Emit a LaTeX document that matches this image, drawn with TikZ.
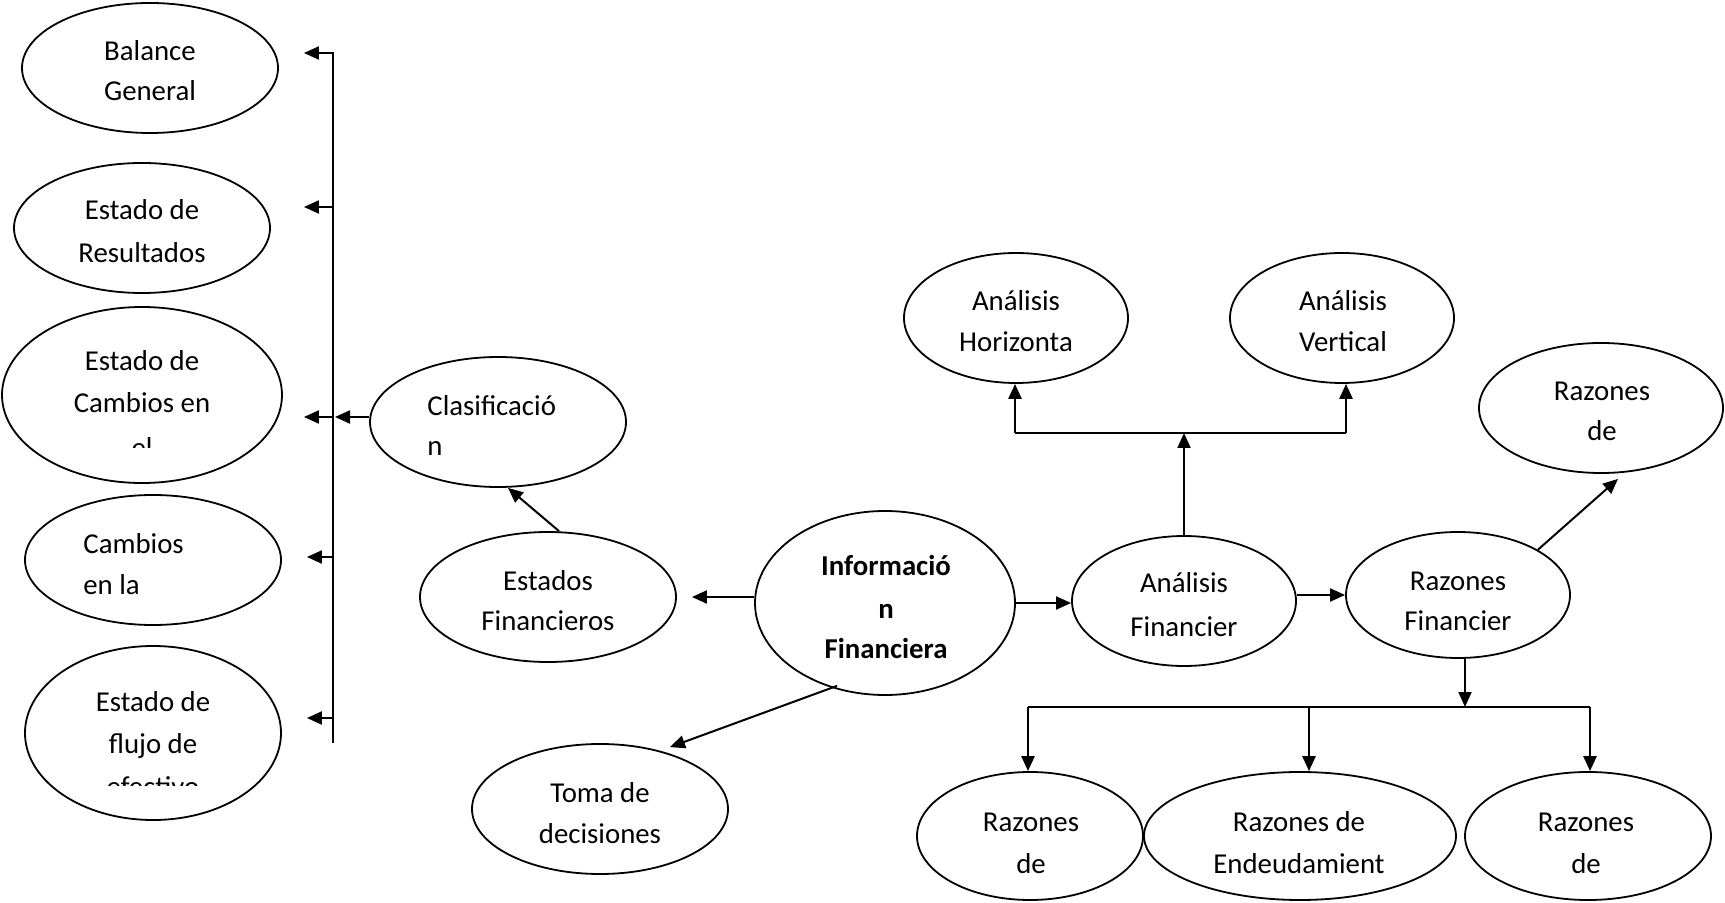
\documentclass[tikz,border=0pt]{standalone}
\usepackage{fontspec}
\setmainfont{Carlito}
\usetikzlibrary{arrows.meta,shapes.geometric}
\begin{document}
\begin{tikzpicture}[x=0.5pt,y=-0.5pt,
  oval/.style={draw,ellipse,line width=0.9pt,inner sep=0pt},
  ln/.style={anchor=base,inner sep=0pt,font=\fontsize{14.4}{21}\selectfont},
  lnw/.style={ln,anchor=base west},
  lnb/.style={ln,font=\fontsize{14.4}{21}\selectfont\bfseries},
  arr/.style={-{Triangle[length=7.5pt,width=6.5pt]},line width=1pt},
  link/.style={line width=1pt},
  bar/.style={line width=1.3pt},
]
\fill[white] (0,0) rectangle (1725,903);
\useasboundingbox (0,0) rectangle (1725,903);

% ---------- ovals ----------
\node[oval,minimum width=128pt,minimum height=65pt] (bg)   at (150,68)  {};
\node[oval,minimum width=128pt,minimum height=65pt] (er)   at (142,228) {};
\node[oval,minimum width=140pt,minimum height=88pt] (ec)   at (142,395) {};
\node[oval,minimum width=128pt,minimum height=65pt] (cl)   at (153,560) {};
\node[oval,minimum width=128pt,minimum height=87pt] (ef)   at (153,733) {};
\node[oval,minimum width=128pt,minimum height=65pt] (clas) at (498,422) {};
\node[oval,minimum width=128pt,minimum height=65pt] (estf) at (548,597) {};
\node[oval,minimum width=128pt,minimum height=65pt] (toma) at (600,809) {};
\node[oval,minimum width=130pt,minimum height=92pt] (info) at (885,603) {};
\node[oval,minimum width=112pt,minimum height=65pt] (ah)   at (1016,318) {};
\node[oval,minimum width=112pt,minimum height=65pt] (av)   at (1342,318) {};
\node[oval,minimum width=112pt,minimum height=65pt] (af)   at (1184,601) {};
\node[oval,minimum width=112pt,minimum height=63pt] (rf)   at (1458,595) {};
\node[oval,minimum width=122pt,minimum height=65pt] (rd)   at (1601,408) {};
\node[oval,minimum width=113pt,minimum height=64pt] (r1)   at (1030,836) {};
\node[oval,minimum width=156pt,minimum height=64pt] (r2)   at (1300,836) {};
\node[oval,minimum width=123pt,minimum height=64pt] (r3)   at (1588,836) {};

% ---------- labels ----------
\node[ln] (bg1) at (150,61) {Balance};
\node[ln] (bg2) at (150,101) {General};
\node[ln] (er1) at (142,220) {Estado de};
\node[ln] (er2) at (142,263) {Resultados};
\begin{scope}
  \clip (20,320) rectangle (270,448);
  \node[ln] (ec1) at (142,371) {Estado de};
  \node[ln] (ec2) at (142,413) {Cambios en};
  \node[ln] (ec3) at (142,458) {el};
\end{scope}
\node[lnw] (cl1) at (83,553) {Cambios};
\node[lnw] (cl2) at (83,595) {en la};
\begin{scope}
  \clip (40,670) rectangle (270,785);
  \node[ln] (ef1) at (153,711) {Estado de};
  \node[ln] (ef2) at (153,753) {flujo de};
  \node[ln] (ef3) at (153,796) {efectivo};
\end{scope}
\node[lnw] (cs1) at (427,416) {Clasificació};
\node[lnw] (cs2) at (427,456) {n};
\node[ln] (es1) at (548,590) {Estados};
\node[ln] (es2) at (548,631) {Financieros};
\node[ln] (tm1) at (600,802) {Toma de};
\node[ln] (tm2) at (600,843) {decisiones};
\node[lnb] (in1) at (886,575) {Informació};
\node[lnb] (in2) at (886,618) {n};
\node[lnb] (in3) at (886,658) {Financiera};
\node[ln] (ah1) at (1016,311) {Análisis};
\node[ln] (ah2) at (1016,352) {Horizonta};
\node[ln] (av1) at (1343,311) {Análisis};
\node[ln] (av2) at (1343,352) {Vertical};
\node[ln] (af1) at (1184,593) {Análisis};
\node[ln] (af2) at (1184,636) {Financier};
\node[ln] (rf1) at (1458,590) {Razones};
\node[ln] (rf2) at (1458,630) {Financier};
\node[ln] (rd1) at (1602,401) {Razones};
\node[ln] (rd2) at (1602,441) {de};
\node[ln] (ra1) at (1031,831) {Razones};
\node[ln] (ra2) at (1031,873) {de};
\node[ln] (rb1) at (1299,831) {Razones de};
\node[ln] (rb2) at (1299,873) {Endeudamient};
\node[ln] (rc1) at (1586,831) {Razones};
\node[ln] (rc2) at (1586,873) {de};

% ---------- left bus ----------
\coordinate (bustop) at (333,52);
\coordinate (busbot) at (333,743);
\coordinate (b1) at (333,53);
\coordinate (b2) at (333,207);
\coordinate (b3) at (333,417);
\coordinate (b4) at (333,557);
\coordinate (b5) at (333,718);
\draw[link] (bustop) -- (busbot);
\draw[arr,shorten >=12.5pt] (b1) -- (b1 -| bg.east);
\draw[arr,shorten >=16.5pt] (b2) -- (b2 -| er.east);
\draw[arr,shorten >=10.5pt] (b3) -- (b3 -| ec.east);
\draw[arr,shorten >=12.5pt] (b4) -- (b4 -| cl.east);
\draw[arr,shorten >=12.5pt] (b5) -- (b5 -| ef.east);
\draw[arr,shorten >=1pt] (b3 -| clas.west) -- (b3);

% ---------- centre ----------
\draw[arr] ([xshift=5.5pt]estf.north) -- ([xshift=5pt]clas.south);
\draw[arr,shorten >=7.5pt] (info.west |- estf.east) -- (estf.east);
\draw[arr] ([shift={(-48,-10)}]info.south) -- ([shift={(70,4)}]toma.north);
\draw[arr] (info.east) -- (info.east -| af.west);

% ---------- analysis branch ----------
\coordinate (brL) at (1015,433);
\coordinate (brR) at (1346,433);
\draw[bar] (brL) -- (brR);
\draw[arr,bar] (brL) -- (brL |- ah.south);
\draw[arr,bar] (brR) -- (brR |- av.south);
\draw[arr] (af.north) -- (af.north |- brL);
\draw[arr] (af.east |- rf.west) -- (rf.west);
\draw[arr] (rf.north east) -- ([shift={(17,5)}]rd.south);

% ---------- ratios ----------
\coordinate (rfs) at ([xshift=3.5pt]rf.south);
\coordinate (bl) at (1028,707);
\coordinate (bm) at (1309,707);
\coordinate (bR) at (1590,707);
\draw[arr] (rfs) -- (rfs |- bl);
\draw[bar] (bl) -- (bR);
\draw[arr,bar] (bl) -- (bl |- r1.north);
\draw[arr,bar] (bm) -- (bm |- r2.north);
\draw[arr,bar] (bR) -- (bR |- r3.north);
\end{tikzpicture}
\end{document}
